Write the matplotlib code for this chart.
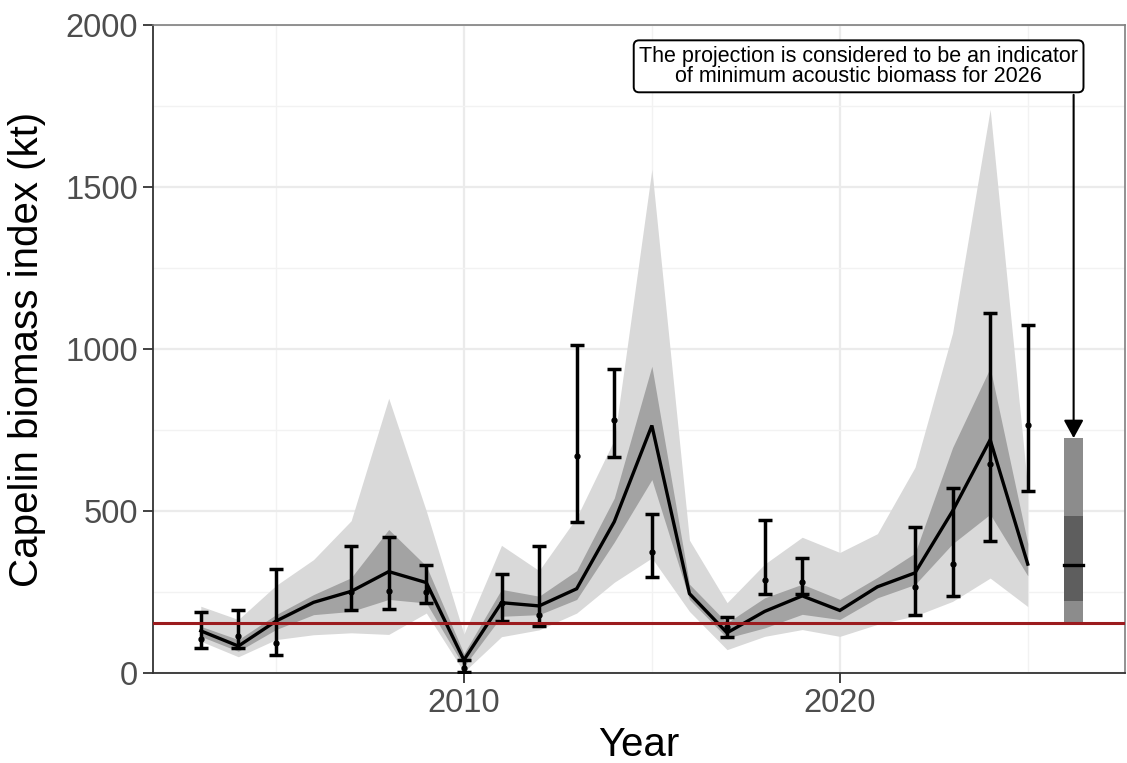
import matplotlib
matplotlib.use("Agg")
import matplotlib.pyplot as plt
import numpy as np

plt.rcParams['font.family'] = ['Liberation Sans', 'DejaVu Sans']

# ---- data ----
years = list(range(2003, 2026))
est = [130, 83, 160, 218, 252, 313, 279, 40, 217, 207, 260, 467, 764,
       245, 124, 190, 238, 193, 266, 309, 500, 720, 336]
light_lo = [98, 50, 103, 118, 124, 119, 185, 3, 112, 133, 185, 280, 355,
            190, 72, 113, 134, 113, 150, 176, 221, 293, 205]
light_hi = [206, 165, 270, 350, 470, 848, 500, 120, 394, 316, 480, 720, 1555,
            410, 217, 336, 419, 372, 430, 635, 1050, 1740, 570]
dark_lo = [113, 67, 134, 180, 190, 227, 216, 20, 175, 180, 227, 404, 597,
           227, 108, 139, 181, 165, 232, 273, 399, 490, 300]
dark_hi = [144, 103, 180, 242, 294, 443, 330, 60, 258, 237, 316, 540, 947,
           274, 155, 232, 274, 227, 295, 370, 696, 942, 400]

obs_years = [2003, 2004, 2005, 2007, 2008, 2009, 2010, 2011, 2012, 2013, 2014,
             2015, 2017, 2018, 2019, 2022, 2023, 2024, 2025]
obs_val = [105, 113, 93, 250, 252, 250, 15, 215, 180, 670, 782, 373, 141,
           286, 282, 264, 336, 645, 767]
obs_lo = [77, 77, 57, 193, 198, 216, 3, 160, 144, 467, 667, 295, 110,
          243, 243, 179, 239, 408, 561]
obs_hi = [188, 194, 322, 392, 421, 332, 40, 307, 391, 1012, 937, 490, 172,
          473, 355, 450, 570, 1110, 1073]

proj_year = 2026
proj_q = [158, 221, 332, 484, 725]   # min, q25, median, q75, max
blim = 155
note = "The projection is considered to be an indicator\nof minimum acoustic biomass for 2026"

# ---- figure ----
fig = plt.figure(figsize=(11.27, 7.63), dpi=100)
ax = fig.add_axes([0.1358, 0.118, 0.8622, 0.849])

ax.set_xlim(2001.73, 2027.58)
ax.set_ylim(0, 2000)

# grid
ax.set_yticks([0, 500, 1000, 1500, 2000])
ax.set_yticks([250, 750, 1250, 1750], minor=True)
ax.set_xticks([2010, 2020])
ax.set_xticks([2005, 2015, 2025], minor=True)
ax.grid(which='major', color='#EBEBEB', lw=1.6, zorder=0)
ax.grid(which='minor', color='#F2F2F2', lw=1.0, zorder=0)
ax.set_axisbelow(True)

ax.fill_between(years, light_lo, light_hi, color='#D9D9D9', lw=0, zorder=1)
ax.fill_between(years, dark_lo, dark_hi, color='#A3A3A3', lw=0, zorder=2)
ax.plot(years, est, color='black', lw=2.4, zorder=4, solid_joinstyle='miter')

obs_val_a = np.array(obs_val)
ax.errorbar(obs_years, obs_val, yerr=[obs_val_a - np.array(obs_lo), np.array(obs_hi) - obs_val_a],
            fmt='o', ms=3.5, color='black', ecolor='black', elinewidth=2.5,
            capsize=5, capthick=2.5, zorder=5)

ax.axhline(blim, color='#9B1B1E', lw=2.2, zorder=6)

# projection bar
pw = 0.5
px = proj_year + 0.22
ax.bar(px, proj_q[4] - proj_q[0], bottom=proj_q[0], width=pw, color='#8C8C8C', lw=0, zorder=3)
ax.bar(px, proj_q[3] - proj_q[1], bottom=proj_q[1], width=pw, color='#5E5E5E', lw=0, zorder=3)
ax.plot([px - pw / 2, px + pw / 2], [proj_q[2], proj_q[2]], color='black', lw=2.4, zorder=4)

# annotation
ax.text(2020.5, 1873, note, ha='center', va='center', fontsize=15.5, linespacing=0.95,
        color='black', zorder=8,
        bbox=dict(boxstyle='round,pad=0.25,rounding_size=0.25', fc='white', ec='black', lw=1.4))
ax.annotate('', xy=(px, proj_q[4]), xytext=(px, 1785),
            arrowprops=dict(arrowstyle='-|>,head_length=0.55,head_width=0.3',
                            color='black', lw=1.5, shrinkA=0, shrinkB=0, mutation_scale=20),
            zorder=7)

# spines / ticks
for s in ['left', 'bottom']:
    ax.spines[s].set_color('#333333')
    ax.spines[s].set_linewidth(1.3)
for s in ['top', 'right']:
    ax.spines[s].set_color('#7F7F7F')
    ax.spines[s].set_linewidth(1.2)
ax.tick_params(which='major', length=7, width=1.3, color='#333333',
               labelsize=23.5, labelcolor='#4D4D4D', pad=4)
ax.tick_params(which='minor', length=0)

ax.set_xlabel('Year', fontsize=29, color='black', labelpad=5)
ax.set_ylabel('Capelin biomass index (kt)', fontsize=29, color='black', labelpad=14)

fig.savefig('out.png', dpi=100)
